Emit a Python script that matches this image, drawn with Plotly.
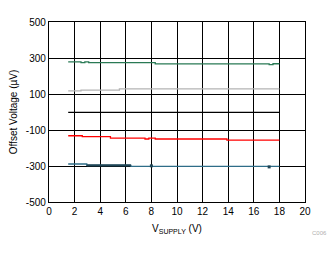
import plotly.graph_objects as go

# Data
green_x = [1.5, 2.5, 2.8, 3.1, 8.3, 17.2, 17.5, 18]
green_y = [279, 274, 278, 274, 267, 263, 268, 268]
gray_x = [1.5, 2.5, 5.5, 18]
gray_y = [117, 122, 128, 128]
black_x = [1.5, 18]
black_y = [-2, -2]
red_x = [1.5, 2.6, 4.8, 7.5, 7.8, 8.3, 13.9, 18]
red_y = [-132, -137, -145, -150, -145, -150, -156, -156]
teal_x = [1.5, 2.95, 6.4, 18]
teal_y = [-289, -297, -302, -302]
dark_x = [2.95, 6.4]
dark_y = [-296, -296]
mark_x = [8.0, 17.2]
mark_y = [-299, -305]

x_ticks = [0, 2, 4, 6, 8, 10, 12, 14, 16, 18, 20]
y_ticks = [-500, -300, -100, 100, 300, 500]

fig = go.Figure()
fig.add_trace(go.Scatter(x=green_x, y=green_y, mode="lines", line=dict(color="#2a7a55", width=1.3, shape="hv")))
fig.add_trace(go.Scatter(x=gray_x, y=gray_y, mode="lines", line=dict(color="#b4b4b4", width=1.3, shape="hv")))
fig.add_trace(go.Scatter(x=black_x, y=black_y, mode="lines", line=dict(color="#000000", width=1.3, shape="hv")))
fig.add_trace(go.Scatter(x=red_x, y=red_y, mode="lines", line=dict(color="#ff0000", width=1.3, shape="hv")))
fig.add_trace(go.Scatter(x=teal_x, y=teal_y, mode="lines", line=dict(color="#2e6d88", width=1.3, shape="hv")))
fig.add_trace(go.Scatter(x=dark_x, y=dark_y, mode="lines", line=dict(color="#1f4555", width=2.2)))
fig.add_trace(go.Scatter(x=mark_x, y=mark_y, mode="markers", marker=dict(color="#1f4555", size=3, symbol="square")))

axis_font = dict(family="Liberation Sans, Arial, sans-serif", size=10, color="#000000")

fig.update_layout(
    width=334, height=254,
    margin=dict(l=49, r=29, t=22, b=52),
    paper_bgcolor="white", plot_bgcolor="white",
    showlegend=False,
    font=axis_font,
    xaxis=dict(range=[0, 20], tickvals=x_ticks, ticktext=[str(v) for v in x_ticks],
               showgrid=True, gridcolor="#000000", gridwidth=1,
               showline=True, linecolor="#000000", linewidth=1.3, mirror=True,
               zeroline=False, ticks="", tickfont=axis_font,
               title=dict(text="V<sub>SUPPLY</sub> (V)", font=axis_font, standoff=8)),
    yaxis=dict(range=[-500, 500], tickvals=y_ticks, ticktext=[str(v) for v in y_ticks],
               showgrid=True, gridcolor="#000000", gridwidth=1,
               showline=True, linecolor="#000000", linewidth=1.3, mirror=True,
               zeroline=False, ticks="", tickfont=axis_font,
               title=dict(text="Offset Voltage (µV)", font=axis_font, standoff=6)),
    annotations=[dict(text="C006", x=1.095, y=-0.17, xref="paper", yref="paper", xanchor="right", yanchor="middle",
                      showarrow=False, font=dict(family="Liberation Sans, Arial, sans-serif", size=6, color="#b0b0b0"))],
)

fig.write_html("out.html")
